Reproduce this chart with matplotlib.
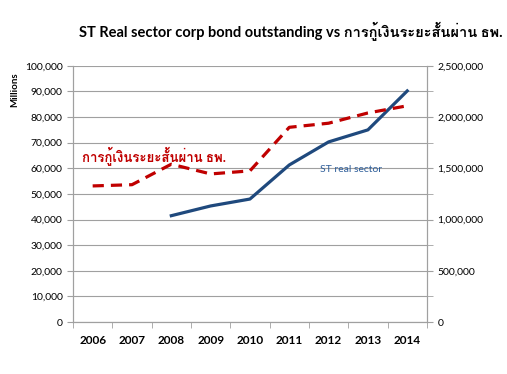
import numpy as np
import matplotlib
matplotlib.use("Agg")
import matplotlib.pyplot as plt
from matplotlib import font_manager
from matplotlib.ticker import FuncFormatter, MultipleLocator

# data
years = ["2006", "2007", "2008", "2009", "2010", "2011", "2012", "2013", "2014"]
st_real_sector = [np.nan, np.nan, 41500, 45300, 48000, 61300, 70300, 75000, 90200]  # millions
bank_st_loans = [1328000, 1340000, 1540000, 1445000, 1475000, 1900000, 1940000, 2040000, 2110000]

title_text = "ST Real sector corp bond outstanding vs การกู้เงินระยะสั้นผ่าน ธพ."
loan_label = "การกู้เงินระยะสั้นผ่าน ธพ."
st_label = "ST real sector"


# find an installed font that has Thai glyphs
def find_thai_font():
    from matplotlib.ft2font import FT2Font
    for f in font_manager.fontManager.ttflist:
        try:
            if 0x0E01 in FT2Font(f.fname).get_charmap():
                return f.name
        except Exception:
            pass
    return None


thai = find_thai_font()
fam = ["Lato", "DejaVu Sans"]
if thai:
    fam = ["Lato", thai, "DejaVu Sans"]
plt.rcParams["font.family"] = fam

fig = plt.figure(figsize=(5.07, 3.74), dpi=100)
ax = fig.add_axes([0.144, 0.139, 0.698, 0.685])
ax2 = ax.twinx()

x = np.arange(len(years))
ax.plot(x, st_real_sector, color="#1F497D", lw=2.3, zorder=3)
ax2.plot(x, bank_st_loans, color="#C00000", lw=2.3, ls=(0, (3.5, 2.2)), zorder=3)

ax.set_xlim(-0.5, len(years) - 0.5)
ax.set_ylim(0, 100000)
ax2.set_ylim(0, 2500000)

ax.yaxis.set_major_locator(MultipleLocator(10000))
ax.yaxis.set_major_formatter(FuncFormatter(lambda v, p: f"{int(v):,}"))
ax2.yaxis.set_major_locator(MultipleLocator(500000))
ax2.yaxis.set_minor_locator(MultipleLocator(250000))
ax2.yaxis.set_major_formatter(FuncFormatter(lambda v, p: f"{int(v):,}"))

ax.set_xticks(x)
ax.set_xticklabels(years, fontsize=8.5, fontweight="bold")
ax.set_xticks(np.arange(-0.5, len(years)), minor=True)
ax.tick_params(axis="x", which="major", length=0, pad=9)
ax.tick_params(axis="x", which="minor", length=4, color="#a0a0a0")
ax.tick_params(axis="y", length=4, color="#a0a0a0", labelsize=7.5)
ax2.tick_params(axis="y", which="both", length=4, color="#a0a0a0", labelsize=7.5)

ax.grid(axis="y", color="#a0a0a0", lw=0.8)
ax.set_axisbelow(True)
for a in (ax, ax2):
    a.spines["top"].set_visible(False)
    for s in ("left", "right", "bottom"):
        a.spines[s].set_color("#a0a0a0")

fig.text(0.03, 0.76, "Millions", rotation=90, fontsize=7, fontweight="bold", ha="center", va="center")
fig.text(0.574, 0.915, title_text, fontsize=10.5, fontweight="bold", ha="center", va="center")
ax.text(-0.27, 64500, loan_label, color="#C00000", fontsize=9.5, fontweight="bold", va="center")
ax.text(5.78, 59400, st_label, color="#2E5E9A", fontsize=7.5, va="center")

fig.savefig("out.png", dpi=100)
